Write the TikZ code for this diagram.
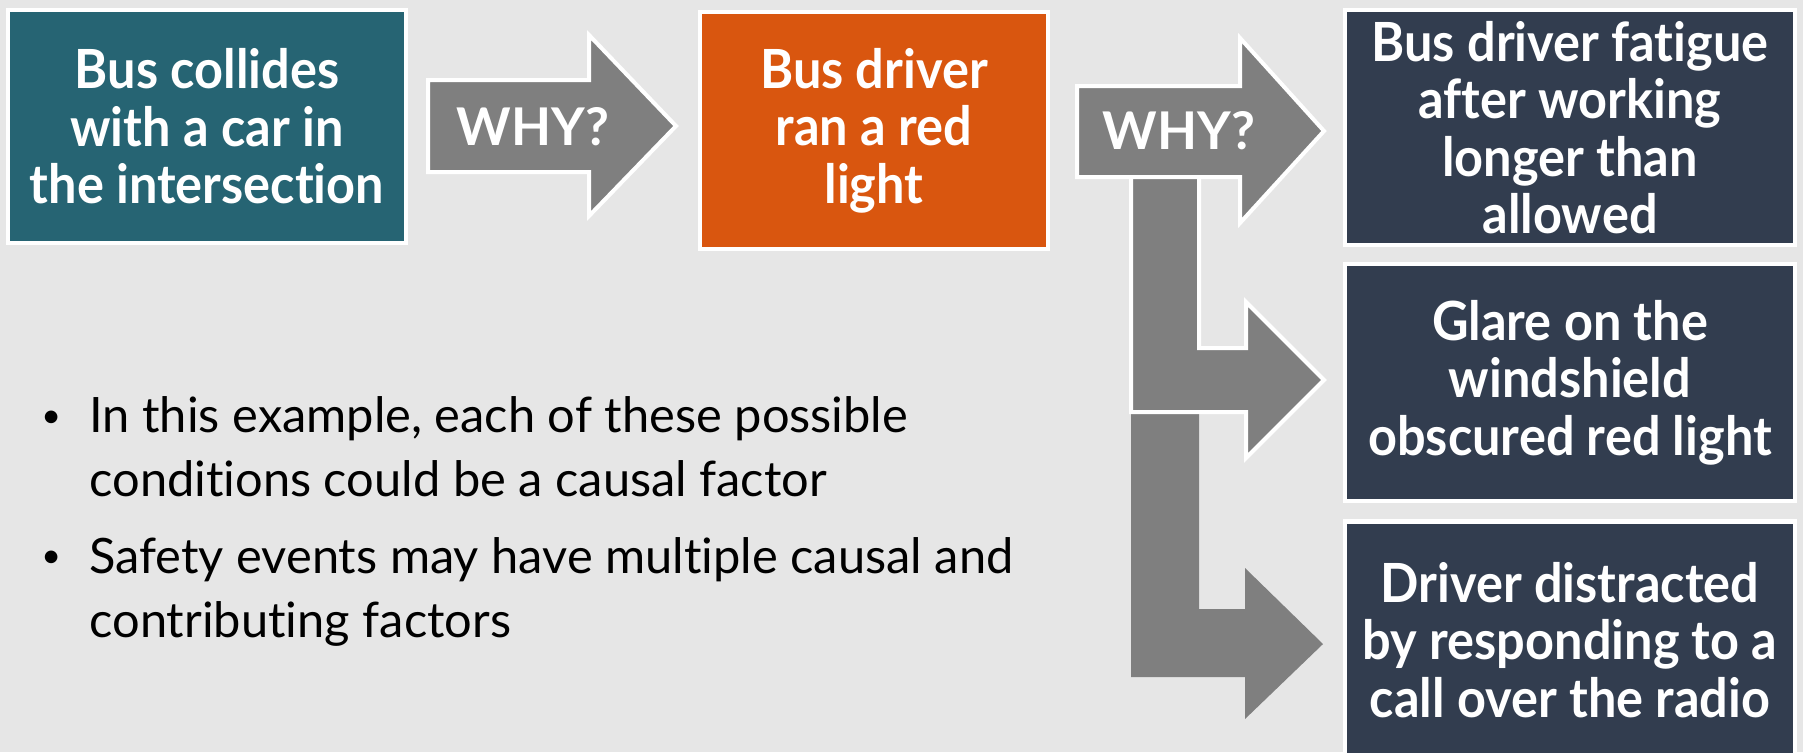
\documentclass[tikz,border=0pt]{standalone}
\usepackage{fontspec}
\setsansfont{Lato}[FakeStretch=0.935, Ligatures=NoCommon]
\newfontfamily\notefont{Lato}[Ligatures=NoCommon]
\usetikzlibrary{calc}
\definecolor{bgray}{HTML}{E6E6E6}
\definecolor{teal1}{HTML}{266473}
\definecolor{orange1}{HTML}{D9560F}
\definecolor{navy1}{HTML}{323D4F}
\definecolor{agray}{HTML}{7F7F7F}
\tikzset{
  box/.style={draw=white, line width=2.25pt, align=center, text=white, inner sep=0pt,
    font=\sffamily\bfseries\fontsize{27}{28.75}\selectfont},
  shape1/.style={fill=agray, draw=white, line width=2pt, line join=miter},
  whytext/.style={text=white, font=\notefont\bfseries\fontsize{26}{28}\selectfont},
  note/.style={anchor=base west, align=left, inner sep=0pt,
    font=\notefont\fontsize{24.4}{31.75}\selectfont},
}

\begin{document}
\begin{tikzpicture}[x=0.5pt,y=-0.5pt]
\clip (0,0) rectangle (1803,752);
\fill[bgray] (0,0) rectangle (1803,752);
\coordinate[] (A) at (428,80);
\coordinate[] (B) at (589,80);
\coordinate[] (C) at (589,35);
\coordinate[] (D) at (676,126);
\coordinate[] (E) at (589,216);
\coordinate[] (F) at (589,172);
\coordinate[] (G) at (428,172);
\coordinate[] (H) at (1077,86);
\coordinate[] (I) at (1240,86);
\coordinate[] (J) at (1240,38);
\coordinate[] (K) at (1324,131);
\coordinate[] (L) at (1240,223);
\coordinate[] (M) at (1240,177);
\coordinate[] (N) at (1077,177);
\coordinate[] (O) at (1131,170);
\coordinate[] (P) at (1199,170);
\coordinate[] (Q) at (1199,348);
\coordinate[] (R) at (1246,348);
\coordinate[] (S) at (1246,302);
\coordinate[] (T) at (1324,380);
\coordinate[] (U) at (1246,458);
\coordinate[] (V) at (1246,412);
\coordinate[] (W) at (1131,412);
\coordinate[] (X) at (1199,412);
\coordinate[] (Y) at (1199,609);
\coordinate[] (Z) at (1245,609);
\coordinate[] (A1) at (1245,568);
\coordinate[] (B1) at (1323,644);
\coordinate[] (C1) at (1245,719);
\coordinate[] (D1) at (1245,677);
\coordinate[] (E1) at (1131,677);

\node[box, fill=teal1, minimum width=199pt, minimum height=116.5pt] (crash) at (207,126.5)
  {Bus collides\\with a car in\\the intersection};
\node[box, fill=orange1, minimum width=174pt, minimum height=118.5pt] (redlight) at (874,130.5)
  {Bus driver\\ran a red\\light};
\node[box, fill=navy1, minimum width=225pt, minimum height=117.5pt] (fatigue) at (1570,127.5)
  {Bus driver fatigue\\after working\\longer than\\allowed};
\node[box, fill=navy1, minimum width=225pt, minimum height=118.5pt] (glare) at (1570,382.5)
  {Glare on the\\windshield\\obscured red light};
\node[box, fill=navy1, minimum width=225pt, minimum height=118.5pt] (radio) at (1570,640)
  {Driver distracted\\by responding to a\\call over the radio};

\fill[agray] (W)--(X)--(Y)--(Z)--(A1)--(B1)--(C1)--(D1)--(E1)--cycle;
\draw[shape1] (O)--(P)--(Q)--(R)--(S)--(T)--(U)--(V)--(W)--cycle;
\draw[shape1] (A)--(B)--(C)--(D)--(E)--(F)--(G)--cycle;
\draw[shape1] (H)--(I)--(J)--(K)--(L)--(M)--(N)--cycle;
\node[whytext] (why1) at (533,126.5) {WHY?};
\node[whytext] (why2) at (1179,131) {WHY?};

\node[note] (note1) at (89,496) {In this example, each of these possible\\conditions could be a causal factor};
\node[note] (note2) at (89,637) {Safety events may have multiple causal and\\contributing factors};
\foreach \p/\y in {note1/427,note2/567}
  \node[note, font=\notefont\fontsize{17}{20}\selectfont] (dot-\p) at (41,\y) {\textbullet};
\end{tikzpicture}
\end{document}
